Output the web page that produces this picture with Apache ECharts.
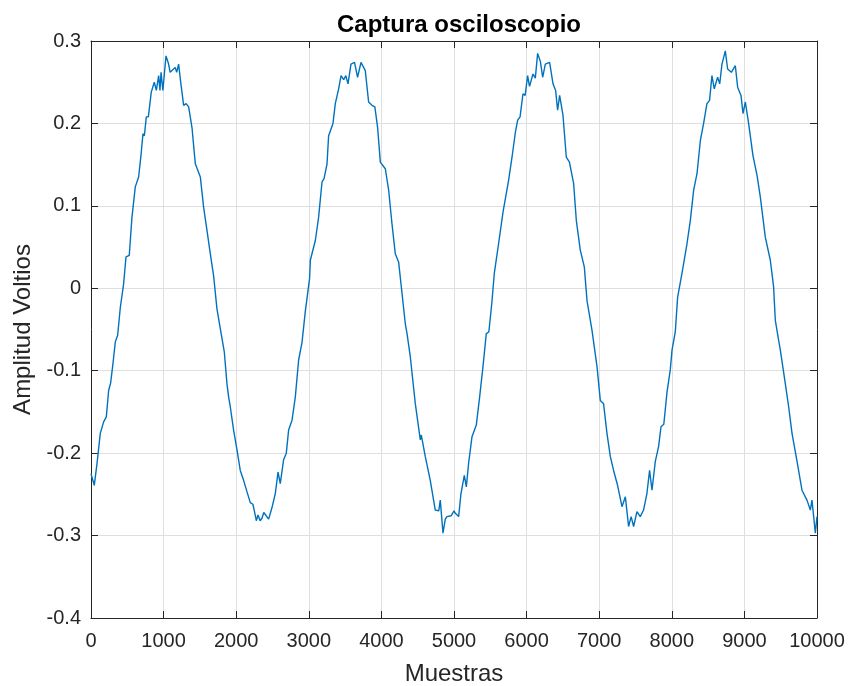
<!DOCTYPE html>
<html>
<head>
<meta charset="utf-8">
<script src="https://cdn.jsdelivr.net/npm/echarts@6/dist/echarts.min.js"></script>
<style>html,body{margin:0;padding:0;background:#fff}#c{width:848px;height:686px}</style>
</head>
<body>
<div id="c"></div>
<script>
const samples = [0,14,45,83,128,174,211,243,270,303,335,367,404,449,482,527,564,585,610,656,688,716,735,762,790,830,872,900,932,950,965,990,1033,1069,1090,1115,1160,1180,1207,1230,1276,1310,1345,1391,1437,1506,1551,1598,1643,1689,1735,1781,1836,1873,1896,1919,1964,2011,2056,2102,2149,2194,2230,2250,2277,2300,2330,2355,2380,2401,2447,2493,2539,2576,2607,2653,2690,2722,2769,2814,2860,2906,2952,3011,3021,3090,3135,3182,3210,3251,3273,3295,3333,3365,3411,3444,3480,3510,3540,3581,3630,3672,3719,3778,3824,3870,3910,3948,3985,4054,4100,4146,4191,4237,4284,4329,4353,4398,4467,4536,4550,4604,4673,4742,4790,4811,4848,4880,4903,4960,5000,5018,5064,5096,5142,5170,5201,5248,5307,5353,5399,5445,5480,5523,5555,5614,5675,5700,5752,5799,5845,5877,5910,5950,5980,6014,6040,6088,6120,6152,6190,6221,6258,6317,6364,6400,6427,6455,6501,6547,6590,6648,6685,6740,6795,6832,6901,6970,7015,7060,7107,7153,7198,7253,7280,7314,7360,7405,7440,7474,7520,7565,7611,7657,7694,7727,7773,7818,7851,7890,7934,7979,8003,8048,8080,8140,8209,8255,8301,8347,8393,8438,8484,8520,8553,8585,8631,8660,8691,8737,8769,8820,8875,8907,8953,8981,9013,9058,9118,9174,9219,9288,9357,9402,9426,9471,9495,9564,9610,9656,9725,9793,9862,9908,9931,9977,10000];
const volts = [-0.225,-0.227,-0.239,-0.2125,-0.176,-0.162,-0.156,-0.124,-0.115,-0.091,-0.065,-0.057,-0.023,0.005,0.038,0.040,0.086,0.086,0.123,0.135,0.161,0.1875,0.185,0.208,0.208,0.238,0.250,0.240,0.258,0.240,0.262,0.240,0.282,0.272,0.262,0.260,0.268,0.262,0.272,0.254,0.222,0.224,0.220,0.195,0.151,0.135,0.0985,0.070,0.042,0.015,-0.025,-0.049,-0.077,-0.116,-0.132,-0.144,-0.172,-0.196,-0.221,-0.233,-0.247,-0.260,-0.262,-0.270,-0.282,-0.275,-0.282,-0.279,-0.272,-0.271,-0.280,-0.266,-0.249,-0.223,-0.237,-0.208,-0.200,-0.172,-0.160,-0.132,-0.087,-0.066,-0.028,0.012,0.034,0.058,0.086,0.129,0.133,0.151,0.185,0.183,0.200,0.224,0.242,0.258,0.253,0.258,0.248,0.272,0.274,0.256,0.274,0.264,0.226,0.222,0.220,0.195,0.153,0.145,0.119,0.078,0.042,0.032,-0.006,-0.043,-0.055,-0.083,-0.140,-0.184,-0.178,-0.204,-0.233,-0.269,-0.270,-0.257,-0.297,-0.280,-0.277,-0.276,-0.270,-0.273,-0.277,-0.249,-0.227,-0.241,-0.2125,-0.180,-0.166,-0.132,-0.095,-0.055,-0.053,-0.016,0.018,0.054,0.0925,0.094,0.131,0.159,0.189,0.204,0.208,0.236,0.234,0.258,0.245,0.260,0.255,0.285,0.275,0.256,0.272,0.274,0.248,0.240,0.216,0.234,0.210,0.159,0.153,0.127,0.082,0.046,0.026,-0.015,-0.051,-0.095,-0.136,-0.140,-0.176,-0.204,-0.221,-0.239,-0.240,-0.265,-0.253,-0.289,-0.277,-0.289,-0.271,-0.277,-0.269,-0.249,-0.221,-0.245,-0.210,-0.192,-0.168,-0.165,-0.126,-0.099,-0.075,-0.053,-0.011,0.018,0.054,0.082,0.119,0.139,0.179,0.200,0.224,0.228,0.258,0.242,0.256,0.248,0.272,0.288,0.266,0.262,0.270,0.244,0.234,0.212,0.226,0.200,0.161,0.137,0.111,0.062,0.034,0.002,-0.039,-0.063,-0.075,-0.116,-0.144,-0.176,-0.210,-0.245,-0.257,-0.269,-0.257,-0.297,-0.277];
const xTicks = [0,1000,2000,3000,4000,5000,6000,7000,8000,9000,10000];
const yTicks = [-0.4,-0.3,-0.2,-0.1,0,0.1,0.2,0.3];
const titleText = 'Captura osciloscopio';
const xLabel = 'Muestras';
const yLabel = 'Amplitud Voltios';

const FONT = 'Liberation Sans, Arial, Helvetica, sans-serif';
const AX = '#262626';
const chart = echarts.init(document.getElementById('c'), null, {renderer: 'canvas'});
const fmtY = v => String(parseFloat(Number(v).toFixed(1)));
const fmtX = v => String(Math.round(v));
const common = {
  axisLine: {show: true, onZero: false, lineStyle: {color: AX, width: 1}},
  axisTick: {show: true, inside: true, length: 7, lineStyle: {color: AX, width: 1}}
};
chart.setOption({
  animation: false,
  backgroundColor: '#ffffff',
  title: {
    text: titleText, left: 454, top: 8, textAlign: 'center',
    textStyle: {fontFamily: FONT, fontSize: 24, fontWeight: 'bold', color: '#000'}
  },
  grid: {left: 91, right: 31, top: 41, bottom: 68, containLabel: false, outerBoundsMode: 'none'},
  xAxis: [
    Object.assign({
      type: 'value', min: xTicks[0], max: xTicks[xTicks.length - 1], interval: 1000, position: 'bottom',
      name: xLabel, nameLocation: 'middle', nameGap: 44,
      nameTextStyle: {fontFamily: FONT, fontSize: 24, color: AX},
      axisLabel: {fontFamily: FONT, fontSize: 20, color: AX, margin: 13, formatter: fmtX},
      splitLine: {show: true, lineStyle: {color: '#dfdfdf', width: 1}}
    }, common),
    Object.assign({
      type: 'value', min: xTicks[0], max: xTicks[xTicks.length - 1], interval: 1000, position: 'top',
      axisLabel: {show: false}, splitLine: {show: false}
    }, common)
  ],
  yAxis: [
    Object.assign({
      type: 'value', min: yTicks[0], max: yTicks[yTicks.length - 1], interval: 0.1, position: 'left',
      name: yLabel, nameLocation: 'middle', nameGap: 49, nameRotate: 90,
      nameTextStyle: {fontFamily: FONT, fontSize: 24, color: AX},
      axisLabel: {fontFamily: FONT, fontSize: 20, color: AX, margin: 10, formatter: fmtY},
      splitLine: {show: true, lineStyle: {color: '#dfdfdf', width: 1}}
    }, common),
    Object.assign({
      type: 'value', min: yTicks[0], max: yTicks[yTicks.length - 1], interval: 0.1, position: 'right',
      axisLabel: {show: false}, splitLine: {show: false}
    }, common)
  ],
  series: [{
    type: 'line',
    data: samples.map((s, i) => [s, volts[i]]),
    showSymbol: false,
    symbol: 'none',
    lineStyle: {color: '#0072BD', width: 1.4},
    xAxisIndex: 0, yAxisIndex: 0
  }]
});
</script>
</body>
</html>
